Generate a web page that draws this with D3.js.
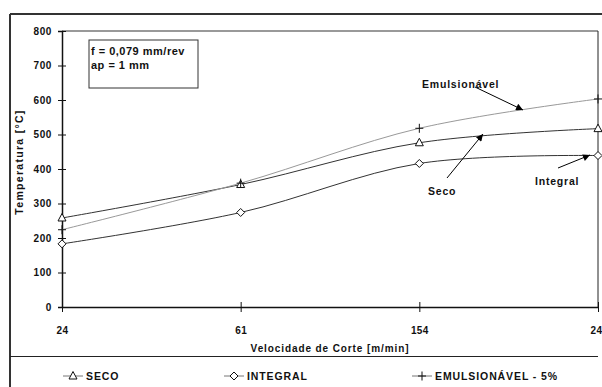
<!DOCTYPE html>
<html>
<head>
<meta charset="utf-8">
<script src="https://cdn.jsdelivr.net/npm/d3@7"></script>
<style>
  body { margin: 0; background: #fff; }
  svg { display: block; font-family: "Liberation Sans", Arial, sans-serif; }
  text { font-weight: bold; fill: #111; }
</style>
</head>
<body>
<div id="chart"></div>
<script>
// chart values
var categories = ["24", "61", "154", "24"]
var seco = [258, 355, 476, 517]
var integral = [183, 274, 416, 439]
var emulsionavel = [224, 359, 518, 603]
var yTicks = [0, 100, 200, 300, 400, 500, 600, 700, 800]
var seriesNames = ["SECO", "INTEGRAL", "EMULSIONÁVEL - 5%"]

var svgw = 602
var svgh = 387
var margin = {top: 31, left: 62, right: 4, bottom: 80}

var svg = d3.select('#chart').append('svg')
    .attr('width', svgw)
    .attr('height', svgh)

var x = d3.scalePoint()
    .domain(d3.range(categories.length))
    .range([margin.left, svgw - margin.right])

var y = d3.scaleLinear()
    .domain([0, 800])
    .range([svgh - margin.bottom, margin.top])

// outer frame (top + left)
svg.append('line').attr('x1', 10).attr('x2', svgw).attr('y1', 14).attr('y2', 14)
    .attr('stroke', '#333').attr('stroke-width', 2)
svg.append('line').attr('x1', 10).attr('x2', 10).attr('y1', 14).attr('y2', svgh)
    .attr('stroke', '#333').attr('stroke-width', 2)
// legend separator
svg.append('line').attr('x1', 10).attr('x2', svgw - margin.right).attr('y1', 356.5).attr('y2', 356.5)
    .attr('stroke', '#222').attr('stroke-width', 1.2)

// plot frame top/right
svg.append('line').attr('x1', margin.left).attr('x2', x(3)).attr('y1', y(800)).attr('y2', y(800))
    .attr('stroke', '#777').attr('stroke-width', 1.5)
svg.append('line').attr('x1', x(3)).attr('x2', x(3)).attr('y1', y(800)).attr('y2', y(0))
    .attr('stroke', '#222').attr('stroke-width', 1)

// y axis
var yAxis = svg.append('g')
    .attr('transform', 'translate(' + margin.left + ',0)')
    .call(d3.axisLeft(y).tickValues(yTicks).tickSize(4).tickPadding(6))
yAxis.select('.domain').attr('stroke', '#111').attr('stroke-width', 1.5)
yAxis.selectAll('.tick line').attr('x2', 4).attr('x1', -4).attr('stroke', '#111')
yAxis.selectAll('text').attr('font-size', 10).attr('font-weight', 'bold')
    .attr('font-family', '"Liberation Sans", Arial, sans-serif').attr('letter-spacing', 0.6)

// x axis
var xAxis = svg.append('g')
    .attr('transform', 'translate(0,' + y(0) + ')')
    .call(d3.axisBottom(x).tickFormat(function(d){ return categories[d] }).tickSize(5).tickPadding(15).tickSizeOuter(0))
xAxis.select('.domain').attr('stroke', '#111').attr('stroke-width', 1.5)
xAxis.selectAll('.tick line').attr('y1', -5).attr('y2', 5).attr('stroke', '#111')
xAxis.selectAll('text').attr('font-size', 10).attr('font-weight', 'bold')
    .attr('font-family', '"Liberation Sans", Arial, sans-serif').attr('letter-spacing', 0.4)
// last label sits against the right edge
xAxis.selectAll('.tick').filter(function(d){ return d == categories.length - 1 })
    .select('text').attr('text-anchor', 'end').attr('dx', 4)

// axis titles
svg.append('text')
    .attr('x', 330).attr('y', 352)
    .attr('text-anchor', 'middle').attr('font-size', 10).attr('letter-spacing', 0.9)
    .text('Velocidade de Corte [m/min]')
svg.append('text')
    .attr('transform', 'translate(23,162) rotate(-90)')
    .attr('text-anchor', 'middle').attr('font-size', 10.5).attr('letter-spacing', 1.3)
    .text('Temperatura [°C]')

// info box
svg.append('rect').attr('x', 89).attr('y', 40).attr('width', 109).attr('height', 48)
    .attr('fill', 'none').attr('stroke', '#333').attr('stroke-width', 1)
svg.append('text').attr('x', 91).attr('y', 55).attr('font-size', 11).attr('letter-spacing', 0.5)
    .text('f = 0,079  mm/rev')
svg.append('text').attr('x', 91).attr('y', 69).attr('font-size', 11).attr('letter-spacing', 0.5)
    .text('ap = 1  mm')

// series
var line = d3.line()
    .x(function(d, i){ return x(i) })
    .y(function(d){ return y(d) })
    .curve(d3.curveCardinal.tension(0))

var series = [
  {name: seriesNames[0], values: seco, color: '#333', marker: 'tri'},
  {name: seriesNames[1], values: integral, color: '#333', marker: 'dia'},
  {name: seriesNames[2], values: emulsionavel, color: '#999', marker: 'plus'}
]

function markerPath(type){
  if (type == 'tri') return 'M0,-4.5L4,3L-4,3Z'
  if (type == 'dia') return 'M0,-4L4,0L0,4L-4,0Z'
  return 'M-4,0H4M0,-4.5V4.5'
}

series.forEach(function(s){
  svg.append('path')
    .attr('d', line(s.values))
    .attr('fill', 'none')
    .attr('stroke', s.color)
    .attr('stroke-width', 1)
  svg.selectAll(null)
    .data(s.values)
    .enter()
    .append('path')
    .attr('transform', function(d, i){ return 'translate(' + x(i) + ',' + y(d) + ')' })
    .attr('d', markerPath(s.marker))
    .attr('fill', s.marker == 'plus' ? 'none' : '#fff')
    .attr('stroke', '#111')
    .attr('stroke-width', 1)
})

// annotations with arrows
svg.append('defs').append('marker')
    .attr('id', 'arrow')
    .attr('viewBox', '0 0 10 10')
    .attr('refX', 10).attr('refY', 5)
    .attr('markerWidth', 9).attr('markerHeight', 7)
    .attr('markerUnits', 'userSpaceOnUse')
    .attr('orient', 'auto')
    .append('path').attr('d', 'M0,0L10,5L0,10Z').attr('fill', '#000')

var notes = [
  {text: 'Emulsionável', tx: 422, ty: 88, x1: 475, y1: 87, x2: 523, y2: 110},
  {text: 'Seco', tx: 428, ty: 195, x1: 447, y1: 178, x2: 483, y2: 134},
  {text: 'Integral', tx: 535, ty: 185, x1: 558, y1: 168, x2: 590, y2: 155}
]
notes.forEach(function(n){
  svg.append('line')
    .attr('x1', n.x1).attr('y1', n.y1).attr('x2', n.x2).attr('y2', n.y2)
    .attr('stroke', '#000').attr('stroke-width', 1)
    .attr('marker-end', 'url(#arrow)')
  svg.append('text').attr('x', n.tx).attr('y', n.ty).attr('font-size', 10.5)
    .attr('letter-spacing', 0.8).text(n.text)
})

// legend
var legendX = [63, 224, 412]
series.forEach(function(s, i){
  var g = svg.append('g').attr('transform', 'translate(' + legendX[i] + ',376)')
  g.append('line').attr('x1', 0).attr('x2', 20).attr('y1', 0).attr('y2', 0)
    .attr('stroke', '#777').attr('stroke-width', 1)
  g.append('path').attr('transform', 'translate(10,0)')
    .attr('d', markerPath(s.marker))
    .attr('fill', s.marker == 'plus' ? 'none' : '#fff')
    .attr('stroke', '#111')
  g.append('text').attr('x', 23).attr('y', 4).attr('font-size', 10.5)
    .attr('letter-spacing', 0.9)
    .text(s.name)
})
</script>
</body>
</html>
